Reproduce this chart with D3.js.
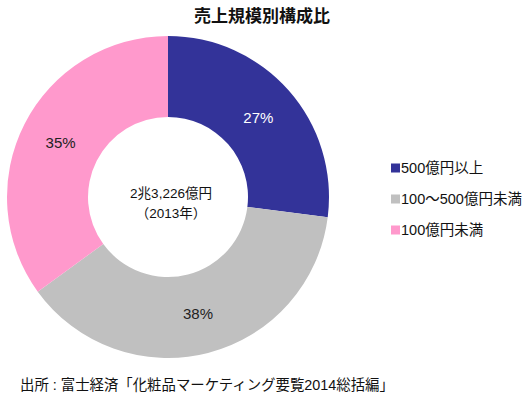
<!DOCTYPE html>
<html><head><meta charset="utf-8">
<script src="https://cdn.jsdelivr.net/npm/d3@7"></script>
<style>body{margin:0;background:#fff}svg{display:block}</style>
</head><body>
<svg id="c" width="527" height="396"></svg>
<script>
const categories = ["500億円以上", "100～500億円未満", "100億円未満"];
const values = [27, 38, 35];
const colors = ["#333399", "#C0C0C0", "#FF99CC"];
const labelColors = ["#ffffff", "#222222", "#222222"];
const title = "売上規模別構成比";
const centerLines = ["2兆3,226億円", "（2013年）"];
const source = "出所 : 富士経済「化粧品マーケティング要覧2014総括編」";

const font = "'Liberation Sans', Arial, 'Noto Sans CJK JP', sans-serif";
const svg = d3.select("#c");
const cx = 168, cy = 197, rOut = 161, rIn = 80;

svg.append("text").attr("x", 262).attr("y", 16).attr("text-anchor", "middle")
  .attr("dominant-baseline", "central").attr("font-family", font)
  .attr("font-weight", "bold").attr("font-size", 17).attr("fill", "#111").text(title);

const pie = d3.pie().sort(null).value(d => d)(values);
const arc = d3.arc().innerRadius(rIn).outerRadius(rOut);
const g = svg.append("g").attr("transform", `translate(${cx},${cy})`);
g.selectAll("path").data(pie).join("path").attr("d", arc).attr("fill", (d, i) => colors[i]);
g.selectAll("text.p").data(pie).join("text").attr("class", "p")
  .attr("transform", d => `translate(${arc.centroid(d)})`)
  .attr("text-anchor", "middle").attr("dominant-baseline", "central")
  .attr("font-family", font).attr("font-size", 15)
  .attr("fill", (d, i) => labelColors[i]).text(d => d.data + "%");

g.selectAll("text.c").data(centerLines).join("text").attr("class", "c")
  .attr("x", 3).attr("y", (d, i) => -4 + i * 20)
  .attr("text-anchor", "middle").attr("dominant-baseline", "central")
  .attr("font-family", font).attr("font-size", 13.5).attr("fill", "#111").text(d => d);

const leg = svg.append("g");
const ly = d3.scalePoint().domain(categories).range([168, 230]);
leg.selectAll("rect").data(categories).join("rect")
  .attr("x", 391).attr("y", d => ly(d) - 4.5).attr("width", 9).attr("height", 9)
  .attr("fill", (d, i) => colors[i]);
leg.selectAll("text").data(categories).join("text")
  .attr("x", 401).attr("y", d => ly(d)).attr("dominant-baseline", "central")
  .attr("font-family", font).attr("font-size", 14.5).attr("fill", "#111").text(d => d);

svg.append("text").attr("x", 20).attr("y", 385).attr("dominant-baseline", "central")
  .attr("font-family", font).attr("font-size", 14.4).attr("fill", "#111").text(source);
</script>
</body></html>
